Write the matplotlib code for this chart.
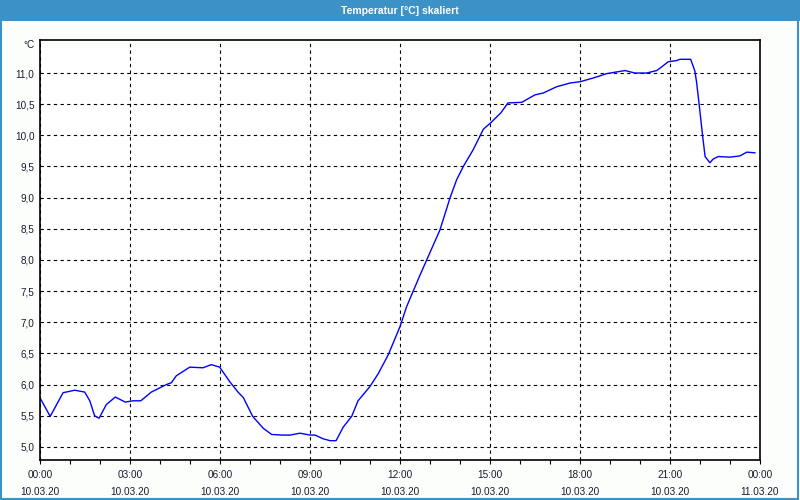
import matplotlib
matplotlib.use("Agg")
import matplotlib.pyplot as plt
from matplotlib.patches import Rectangle

# time in hours since 10.03.20 00:00, temperature in °C
hours = [0.02, 0.34, 0.77, 1.16, 1.49, 1.66, 1.82, 1.97, 2.21, 2.51, 2.84, 3.1, 3.36,
         3.71, 4.21, 4.38, 4.54, 4.99, 5.43, 5.71, 5.99, 6.32, 6.6, 6.78, 7.09, 7.44,
         7.72, 8.06, 8.34, 8.67, 9.0, 9.17, 9.44, 9.67, 9.87, 10.11, 10.39, 10.6, 11.0,
         11.28, 11.61, 12.0, 12.22, 12.44, 12.67, 12.89, 13.33, 13.67, 13.89, 14.11,
         14.44, 14.78, 15.0, 15.36, 15.6, 16.06, 16.5, 16.78, 17.22, 17.67, 18.0,
         18.44, 18.89, 19.5, 19.83, 20.22, 20.56, 20.67, 20.94, 21.22, 21.33, 21.69,
         21.83, 21.89, 21.98, 22.09, 22.17, 22.33, 22.44, 22.61, 23.0, 23.33, 23.56,
         23.83]
temps = [5.77, 5.49, 5.87, 5.91, 5.88, 5.74, 5.50, 5.46, 5.68, 5.80, 5.72, 5.74, 5.74,
         5.88, 6.00, 6.03, 6.14, 6.28, 6.27, 6.32, 6.28, 6.05, 5.88, 5.79, 5.49, 5.30,
         5.20, 5.19, 5.19, 5.22, 5.19, 5.19, 5.13, 5.10, 5.10, 5.32, 5.49, 5.74, 5.97,
         6.18, 6.48, 6.93, 7.25, 7.50, 7.76, 8.00, 8.48, 9.00, 9.29, 9.50,
         9.77, 10.10, 10.19, 10.36, 10.52, 10.53, 10.65, 10.68, 10.78, 10.84, 10.86,
         10.92, 10.99, 11.04, 11.00, 11.00, 11.04, 11.08, 11.18, 11.20, 11.22, 11.22,
         11.03, 10.84, 10.46, 9.98, 9.66, 9.56, 9.62, 9.66, 9.65, 9.67, 9.73,
         9.72]

xticks = [0, 3, 6, 9, 12, 15, 18, 21, 24]
xticklabels = ["00:00\n10.03.20", "03:00\n10.03.20", "06:00\n10.03.20",
               "09:00\n10.03.20", "12:00\n10.03.20", "15:00\n10.03.20",
               "18:00\n10.03.20", "21:00\n10.03.20", "00:00\n11.03.20"]
yticks = [5.0, 5.5, 6.0, 6.5, 7.0, 7.5, 8.0, 8.5, 9.0, 9.5, 10.0, 10.5, 11.0]

blue = "#3c91c7"
txt = "#1a1a30"
plt.rcParams["font.family"] = ["Liberation Sans", "DejaVu Sans"]

fig = plt.figure(figsize=(8, 5), dpi=100, facecolor="#fcfefc")
ax = fig.add_axes([0.05, 0.08, 0.90, 0.84])
ax.set_facecolor("white")

ax.plot(hours, temps, color="#0000ff", lw=1.0)

ax.set_xlim(0, 24)
ax.set_ylim(4.79, 11.53)
ax.set_xticks(xticks)
ax.set_xticklabels(xticklabels, linespacing=1.95)
ax.set_xticks(range(0, 25), minor=True)
ax.set_yticks(yticks)
ax.set_yticklabels([f"{v:.1f}".replace(".", ",") for v in yticks])

ax.tick_params(axis="x", which="both", length=3, width=0.8, color="black",
               labelsize=7.2, labelcolor=txt, pad=4)
ax.tick_params(axis="y", length=0, labelsize=7.2, labelcolor=txt, pad=4)

ax.grid(True, which="major", color="black", linestyle=(0, (3, 3)), lw=0.8)
for s in ax.spines.values():
    s.set_color("black")
    s.set_linewidth(1.2)

ax.text(-0.008, 1.0, "°C", transform=ax.transAxes, ha="right", va="top",
        fontsize=7.2, color=txt)

# title bar and frame
fig.patches.append(Rectangle((0, 0.958), 1, 0.042, transform=fig.transFigure,
                             facecolor=blue, edgecolor="none", zorder=0))
fig.patches.append(Rectangle((0.001, 0.002), 0.997, 0.996, transform=fig.transFigure,
                             facecolor="none", edgecolor=blue, lw=1.5, zorder=1))
fig.text(0.5, 0.979, "Temperatur [°C] skaliert", ha="center", va="center",
         color="white", fontsize=7.5, fontweight="bold")

fig.savefig("out.png", dpi=100, facecolor=fig.get_facecolor())
